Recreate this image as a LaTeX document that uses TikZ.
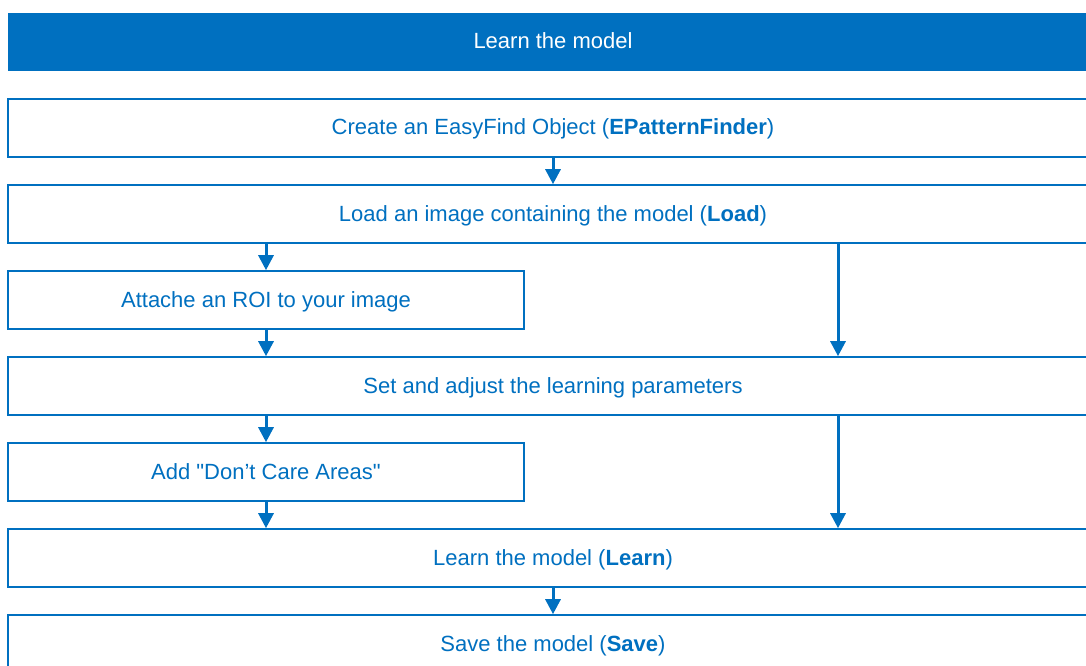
\documentclass[tikz,border=0pt]{standalone}
\usepackage{fontspec}
\setmainfont{Liberation Sans}[Ligatures=TeXOff]
\usetikzlibrary{arrows.meta}
\definecolor{mblue}{HTML}{0070C0}
\tikzset{
  head/.style={fill=mblue, draw=none, text=white, minimum height=58pt, inner sep=0pt, text height=14pt, text depth=0pt, font=\fontsize{22}{26}\selectfont},
  wbox/.style={draw=mblue, line width=1.6pt, fill=white, text=mblue, minimum height=58pt, inner sep=0pt, text height=14pt, text depth=0pt, font=\fontsize{22}{26}\selectfont},
  full/.style={wbox, minimum width=1090pt},
  half/.style={wbox, minimum width=516pt},
  arr/.style={draw=mblue, line width=3pt, -{Triangle[length=15pt,width=15pt]}}
}
\begin{document}
\begin{tikzpicture}[x=1pt,y=-1pt]
\useasboundingbox (0,0) rectangle (1086,666);
\clip (0,0) rectangle (1086,666);
\node[head, minimum width=1090pt] (h) at (553,42) {Learn the model};
\node[full] (b1) at (553,128) {Create an EasyFind Object (\textbf{EPatternFinder})};
\node[full] (b2) at (553,214) {Load an image containing the model (\textbf{Load})};
\node[half] (b3) at (266,300) {Attache an ROI to your image};
\node[full] (b4) at (553,386) {Set and adjust the learning parameters};
\node[half] (b5) at (266,472) {Add "Don’t Care Areas"};
\node[full] (b6) at (553,558) {Learn the model (\textbf{Learn})};
\node[full] (b7) at (553,644) {Save the model (\textbf{Save})};
\coordinate (r) at (838,0);
\draw[arr] (b1.south) -- (b2.north);
\draw[arr] (b2.south -| b3.north) -- (b3.north);
\draw[arr] (b2.south -| r) -- (b4.north -| r);
\draw[arr] (b3.south) -- (b4.north -| b3.south);
\draw[arr] (b4.south -| b5.north) -- (b5.north);
\draw[arr] (b4.south -| r) -- (b6.north -| r);
\draw[arr] (b5.south) -- (b6.north -| b5.south);
\draw[arr] (b6.south) -- (b7.north);
\end{tikzpicture}
\end{document}
